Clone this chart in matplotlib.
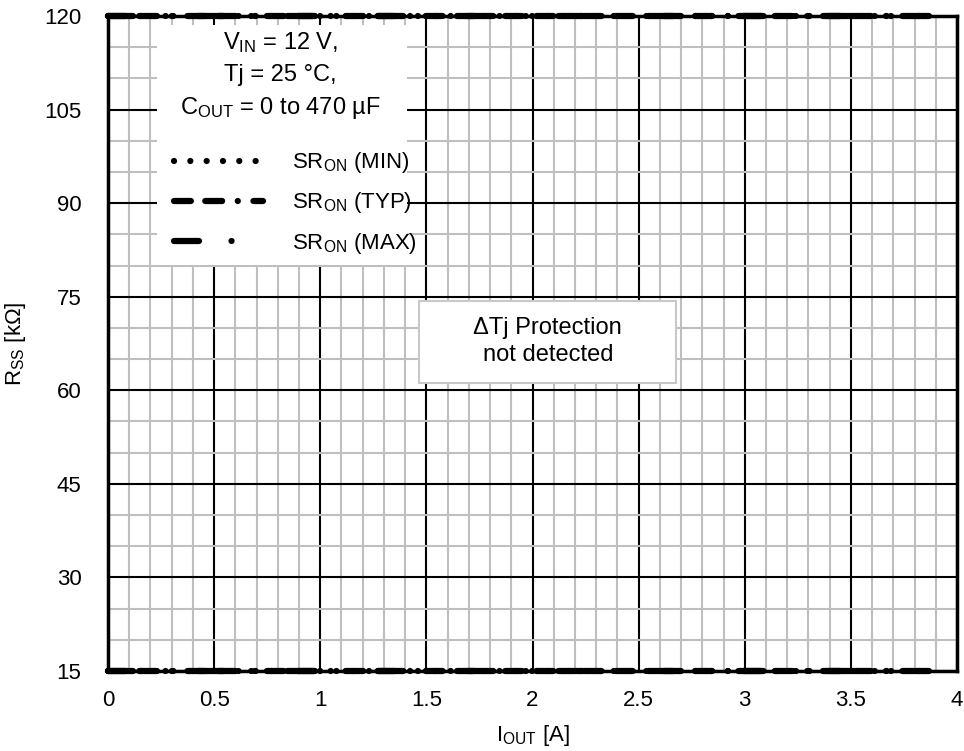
import matplotlib.pyplot as plt
from matplotlib.patches import Rectangle
from matplotlib.ticker import MultipleLocator

plt.rcParams['font.family'] = ['Liberation Sans', 'DejaVu Sans']
plt.rcParams['mathtext.default'] = 'regular'
plt.rcParams['font.size'] = 16

# data: R_SS stays pinned at the axis limits over the current range
iout_a = [0.0, 3.87]
rss_min = [120, 120]
rss_min_low = [15, 15]
rss_typ = [120, 120]
rss_typ_low = [15, 15]
rss_max = [120, 120]
rss_max_low = [15, 15]

series_labels = ['SR$_{ON}$ (MIN)', 'SR$_{ON}$ (TYP)', 'SR$_{ON}$ (MAX)']
x_ticks = [0, 0.5, 1, 1.5, 2, 2.5, 3, 3.5, 4]
x_ticklabels = ['0', '0.5', '1', '1.5', '2', '2.5', '3', '3.5', '4']
y_ticks = [15, 30, 45, 60, 75, 90, 105, 120]

fig = plt.figure(figsize=(9.64, 7.51), dpi=100)
ax = fig.add_axes([108 / 964, 1 - 671 / 751, 849 / 964, 655 / 751])

ax.set_xlim(0, 4)
ax.set_ylim(15, 120)
ax.set_xticks(x_ticks)
ax.set_xticklabels(x_ticklabels)
ax.set_yticks(y_ticks)
ax.xaxis.set_minor_locator(MultipleLocator(0.1))
ax.yaxis.set_minor_locator(MultipleLocator(5))
ax.grid(which='minor', color='#bfbfbf', linewidth=1.5, zorder=0)
ax.grid(which='major', color='black', linewidth=1.5, zorder=0.5)
ax.tick_params(which='both', length=0, labelsize=16)
ax.tick_params(axis='y', pad=19)
ax.tick_params(axis='x', pad=14)
for sp in ax.spines.values():
    sp.set_linewidth(2.5)
    sp.set_zorder(3)
ax.set_axisbelow(True)

styles = [
    dict(linestyle=(0, (0.01, 2.6)), dash_capstyle='round'),
    dict(linestyle=(0, (2.7, 2.3, 2.7, 2.5, 0.01, 2.5)), dash_capstyle='round'),
    dict(linestyle=(0, (4, 5.2, 0.01, 5.2)), dash_capstyle='round'),
]
highs = [rss_min, rss_typ, rss_max]
lows = [rss_min_low, rss_typ_low, rss_max_low]
handles = []
for lab, st, hi, lo in zip(series_labels, styles, highs, lows):
    h, = ax.plot(iout_a, hi, color='black', linewidth=4.5, clip_on=False,
                 zorder=4, label=lab, **st)
    ax.plot(iout_a, lo, color='black', linewidth=4.5, clip_on=False,
            zorder=4, **st)
    handles.append(h)

# white panel behind the conditions text and legend
ax.add_patch(Rectangle((0.058, 0.62), 0.294, 0.366, transform=ax.transAxes,
                       facecolor='white', edgecolor='none', zorder=2))
ax.text(0.203, 0.909, 'V$_{IN}$ = 12 V,\nTj = 25 °C,\nC$_{OUT}$ = 0 to 470 µF',
        transform=ax.transAxes, ha='center', va='center', fontsize=17,
        linespacing=1.5, zorder=5)

leg = ax.legend(handles=handles, loc='upper left', bbox_to_anchor=(0.057, 0.822),
                frameon=False, handlelength=4.0, handletextpad=1.3,
                labelspacing=0.68, fontsize=16, borderpad=0.3)
leg.set_zorder(5)

# "protection not detected" note box
ax.add_patch(Rectangle((0.366, 0.440), 0.303, 0.125, transform=ax.transAxes,
                       facecolor='white', edgecolor='#c8c8c8', linewidth=1.5,
                       zorder=4))
ax.text(0.518, 0.503, 'ΔTj Protection\nnot detected', transform=ax.transAxes,
        ha='center', va='center', fontsize=17, linespacing=1.3, zorder=5)

ax.set_xlabel('I$_{OUT}$ [A]', fontsize=16, labelpad=8)
ax.set_ylabel('R$_{SS}$ [kΩ]', fontsize=16)
ax.yaxis.set_label_coords(-0.094, 0.5)

fig.savefig('out.png', dpi=100)
